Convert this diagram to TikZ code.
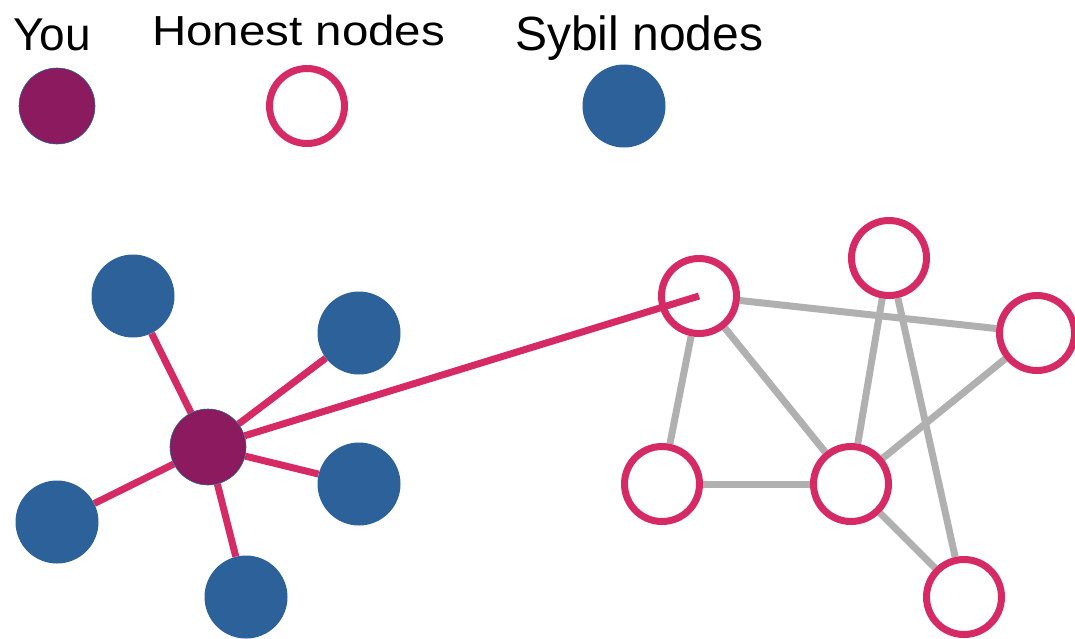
\documentclass[tikz,border=0pt]{standalone}
\usepackage{fontspec}
\setmainfont{Liberation Sans}
\usetikzlibrary{backgrounds}
\definecolor{youc}{HTML}{8B1A5E}
\definecolor{sybc}{HTML}{2C6199}
\definecolor{honc}{HTML}{D62A65}
\definecolor{edgc}{HTML}{B0B0B0}
\tikzset{
  younode/.style={circle,fill=youc,draw=sybc,line width=0.6pt,minimum size=76pt,inner sep=0pt},
  sybnode/.style={circle,fill=sybc,minimum size=83pt,inner sep=0pt},
  honnode/.style={circle,fill=white,draw=honc,line width=7pt,minimum size=75pt,inner sep=0pt},
  redge/.style={draw=honc,line width=7pt},
  gedge/.style={draw=edgc,line width=7pt},
  lbl/.style={anchor=base west,inner sep=0pt,text=black}
}
\begin{document}
\begin{tikzpicture}[x=1pt,y=-1pt]
\useasboundingbox (0,0) rectangle (1075,638);
% legend
\node[lbl,font=\fontsize{46}{52}\selectfont] (tyou) at (13,50) {You};
\node[lbl,font=\fontsize{42}{50}\selectfont,xscale=1.13] (thon) at (152,45) {Honest nodes};
\node[lbl,font=\fontsize{48}{56}\selectfont] (tsyb) at (515,50) {Sybil nodes};
\node[younode] (lyou) at (57,106) {};
\node[honnode] (lhon) at (307,106) {};
\node[sybnode] (lsyb) at (624,106) {};
% graph nodes
\node[younode] (you) at (208,447) {};
\node[sybnode] (s1) at (133,296) {};
\node[sybnode] (s2) at (359,333) {};
\node[sybnode] (s3) at (359,484) {};
\node[sybnode] (s4) at (57,522) {};
\node[sybnode] (s5) at (246,597) {};
\node[honnode] (h1) at (699,296) {};
\node[honnode] (h2) at (889,258) {};
\node[honnode] (h3) at (1037,333) {};
\node[honnode] (h4) at (662,484) {};
\node[honnode] (h5) at (851,484) {};
\node[honnode] (h6) at (964,597) {};
\begin{pgfonlayer}{background}
\draw[gedge] (h1) -- (h3);
\draw[gedge] (h1) -- (h4);
\draw[gedge] (h1) -- (h5);
\draw[gedge] (h2) -- (h5);
\draw[gedge] (h2) -- (h6);
\draw[gedge] (h3) -- (h5);
\draw[gedge] (h4) -- (h5);
\draw[gedge] (h5) -- (h6);
\draw[redge] (you) -- (s1);
\draw[redge] (you) -- (s2);
\draw[redge] (you) -- (s3);
\draw[redge] (you) -- (s4);
\draw[redge] (you) -- (s5);
\end{pgfonlayer}
\draw[redge] (you) -- (h1.center);
\end{tikzpicture}
\end{document}
